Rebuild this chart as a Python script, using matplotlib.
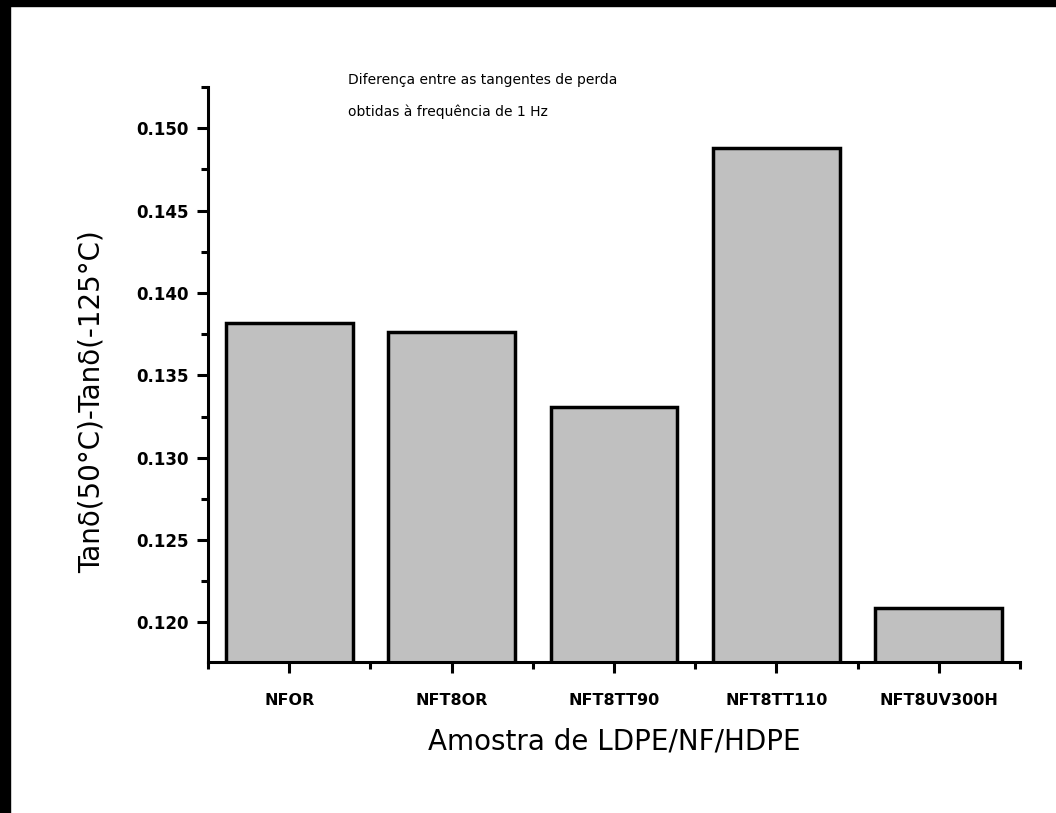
import numpy as np
import matplotlib
matplotlib.use('Agg')
import matplotlib.pyplot as plt
from matplotlib.patches import Rectangle
from matplotlib.ticker import MultipleLocator

# samples and loss tangent difference (tan d at 50C minus tan d at -125C, 1 Hz)
amostras = ['NFOR', 'NFT8OR', 'NFT8TT90', 'NFT8TT110', 'NFT8UV300H']
delta_tan = [0.1382, 0.1376, 0.1331, 0.1488, 0.1209]

fig = plt.figure(figsize=(10.56, 8.13), dpi=100)
ax = fig.add_axes([208/1056, 1-662/813, (1020-208)/1056, (662-87)/813])

x = np.arange(len(amostras))
ax.bar(x, delta_tan, width=0.78, color='#c0c0c0', edgecolor='black', linewidth=2.5)

ax.set_xlim(-0.5, len(amostras) - 0.5)
ax.set_ylim(0.1176, 0.1525)
ax.set_xticks(x)
ax.set_xticklabels(amostras, fontsize=11.5, fontweight='bold')
ax.xaxis.set_minor_locator(MultipleLocator(1, offset=0.5))
ax.yaxis.set_major_locator(MultipleLocator(0.005))
ax.yaxis.set_minor_locator(MultipleLocator(0.0025))
ax.yaxis.set_major_formatter(matplotlib.ticker.FormatStrFormatter('%.3f'))
for lab in ax.get_yticklabels():
    lab.set_fontsize(12)
    lab.set_fontweight('bold')

for s in ['top', 'right']:
    ax.spines[s].set_visible(False)
for s in ['left', 'bottom']:
    ax.spines[s].set_linewidth(2.2)
ax.tick_params(which='major', direction='out', length=8, width=2.2, pad=6)
ax.tick_params(which='minor', direction='out', length=5, width=2.2)
ax.tick_params(axis='x', which='major', pad=14)

ax.set_xlabel('Amostra de LDPE/NF/HDPE', fontsize=20, labelpad=14)
ax.set_ylabel('Tanδ(50°C)-Tanδ(-125°C)', fontsize=20, va='center')
ax.yaxis.set_label_coords(-0.143, 0.452)

fig.text(348/1056, 1-80/813, 'Diferença entre as tangentes de perda', fontsize=10, va='center')
fig.text(348/1056, 1-112/813, 'obtidas à frequência de 1 Hz', fontsize=10, va='center')

# black strips along the left and top edges
fig.patches.append(Rectangle((0, 0), 10/1056, 1, transform=fig.transFigure, color='black', zorder=10))
fig.patches.append(Rectangle((0, 1-6/813), 1, 6/813, transform=fig.transFigure, color='black', zorder=10))

fig.savefig('out.png', dpi=100, facecolor='white')
